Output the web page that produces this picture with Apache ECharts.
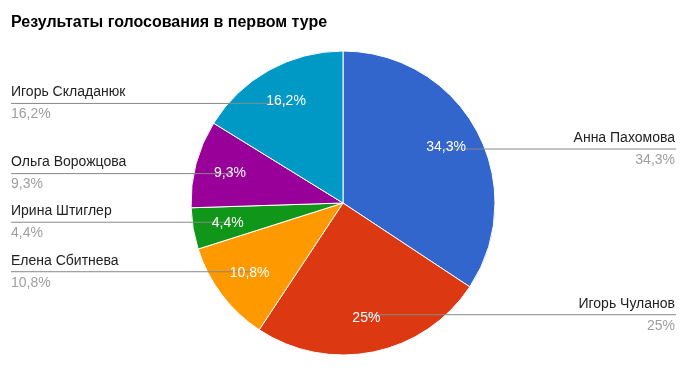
<!DOCTYPE html>
<html>
<head>
<meta charset="utf-8">
<script src="https://cdn.jsdelivr.net/npm/echarts@6/dist/echarts.min.js"></script>
<style>
html,body{margin:0;padding:0;background:#fff;}
#chart{width:692px;height:375px;}
</style>
</head>
<body>
<div id="chart"></div>
<script>
var titleText = 'Результаты голосования в первом туре';
var names = ['Анна Пахомова', 'Игорь Чуланов', 'Елена Сбитнева', 'Ирина Штиглер', 'Ольга Ворожцова', 'Игорь Складанюк'];
var values = [34.3, 25, 10.8, 4.4, 9.3, 16.2];
var colors = ['#3366cc', '#dc3912', '#ff9900', '#109618', '#990099', '#0099c6'];

var FONT = 'Arial, "Liberation Sans", sans-serif';
var CX = 343, CY = 203, R = 152;

function pct(v) { return String(v).replace('.', ',') + '%'; }

var pieData = names.map(function (n, i) {
  return { name: n, value: values[i], itemStyle: { color: colors[i] } };
});
var ghostData = names.map(function (n, i) {
  return { name: n, value: values[i] };
});

var chart = echarts.init(document.getElementById('chart'));
chart.setOption({
  animation: false,
  backgroundColor: '#fff',
  title: {
    text: titleText,
    left: 6, top: 10,
    textStyle: { fontFamily: FONT, fontSize: 16, fontWeight: 'bold', color: '#000' }
  },
  series: [
    {
      type: 'pie',
      center: [CX, CY],
      radius: [0, R],
      startAngle: 90,
      clockwise: true,
      z: 2,
      data: pieData,
      itemStyle: { borderColor: '#fff', borderWidth: 1 },
      label: { show: false },
      labelLine: { show: false },
      emphasis: { disabled: true }
    },
    {
      type: 'pie',
      center: [CX, CY],
      radius: [0, R],
      startAngle: 90,
      clockwise: true,
      silent: true,
      z: 4,
      data: ghostData,
      itemStyle: { color: 'rgba(0,0,0,0)', borderWidth: 0 },
      label: {
        show: true,
        position: 'outside',
        formatter: function (p) { return '{n|' + p.name + '}\n{p|' + pct(p.value) + '}'; },
        rich: {
          n: { fontFamily: FONT, fontSize: 14, color: '#222', lineHeight: 22 },
          p: { fontFamily: FONT, fontSize: 14, color: '#9e9e9e', lineHeight: 22 }
        }
      },
      labelLine: { show: true, length: 10, length2: 10, smooth: false, lineStyle: { color: '#888', width: 1 } },
      labelLayout: function (p) {
        var pts = p.labelLinePoints;
        if (!pts) return {};
        var dx = pts[0][0] - CX, dy = pts[0][1] - CY;
        var d = Math.sqrt(dx * dx + dy * dy) || 1;
        var ax = CX + dx / d * R * 0.75, ay = CY + dy / d * R * 0.75;
        var right = dx > 0;
        var edge = right ? 676 : 11;
        return {
          x: right ? 675 : 11, y: ay,
          align: right ? 'right' : 'left',
          verticalAlign: 'middle',
          labelLinePoints: [[ax, ay], [edge, ay], [edge, ay]]
        };
      },
      emphasis: { disabled: true }
    },
    {
      type: 'pie',
      center: [CX, CY],
      radius: [R * 0.5, R],
      startAngle: 90,
      clockwise: true,
      silent: true,
      z: 5,
      data: ghostData,
      itemStyle: { color: 'rgba(0,0,0,0)', borderWidth: 0 },
      label: {
        show: true,
        position: 'inside',
        formatter: function (p) { return pct(p.value); },
        fontFamily: FONT, fontSize: 14, color: '#fff'
      },
      labelLine: { show: false },
      emphasis: { disabled: true }
    }
  ]
});
</script>
</body>
</html>
